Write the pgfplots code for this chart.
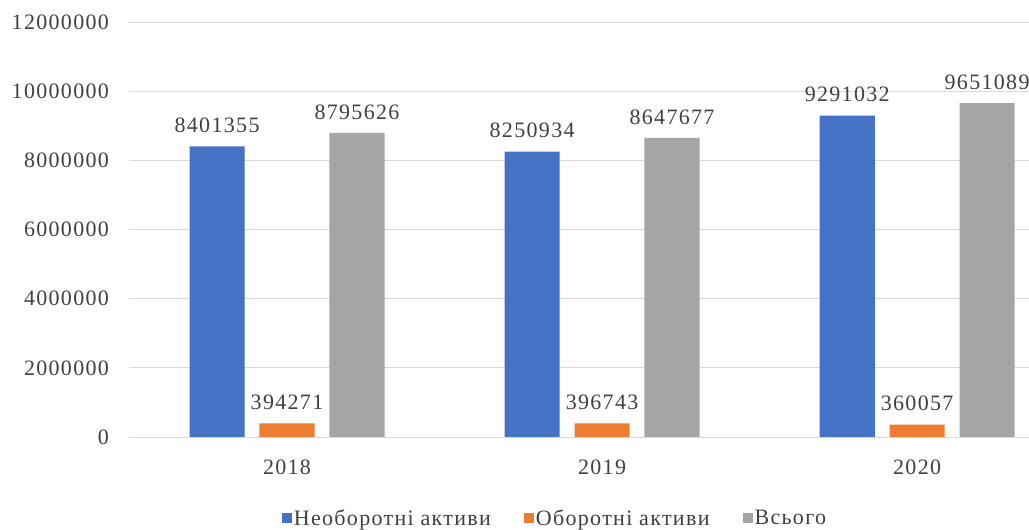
\documentclass[border=0pt]{standalone}
\usepackage{pgfplots}
\pgfplotsset{compat=1.18}
\usepackage{fontspec}
\setmainfont[LetterSpace=6]{Liberation Serif}
\definecolor{cblue}{HTML}{4472C4}
\definecolor{corange}{HTML}{ED7D31}
\definecolor{cgray}{HTML}{A5A5A5}
\definecolor{cgrid}{HTML}{D9D9D9}
\definecolor{ctext}{HTML}{404040}
\newcommand{\lf}{\fontsize{22}{26}\selectfont}
\begin{document}
\begin{tikzpicture}
\useasboundingbox (-129.5pt,-93pt) rectangle (899.5pt,437pt);
\begin{axis}[
  scale only axis, width=899.5pt, height=415pt,
  xmin=-0.5, xmax=2.355, ymin=0, ymax=12000000,
  ybar, bar width=0.175,
  axis line style={draw=none},
  major tick length=0pt,
  scaled y ticks=false,
  ymajorgrids, grid style={cgrid, line width=0.8pt},
  ytick={0,2000000,4000000,6000000,8000000,10000000,12000000},
  yticklabels={0,2000000,4000000,6000000,8000000,10000000,12000000},
  xtick={0,1,2}, xticklabels={2018,2019,2020},
  tick label style={font=\lf, text=ctext},
  yticklabel style={xshift=-17pt},
  xticklabel style={yshift=-19pt},
  point meta=explicit symbolic,
  nodes near coords,
  every node near coord/.append style={font=\lf, text=ctext, yshift=10pt},
  legend columns=3,
  legend style={draw=none, fill=none, font=\lf, text=ctext,
    at={(0.473,-0.195)}, anchor=center,
    /tikz/every even column/.append style={column sep=31pt}},
  legend image code/.code={\fill[#1] (0pt,-5pt) rectangle (10pt,5pt);},
]
\addplot[fill=cblue, draw=none, bar shift=-0.222] coordinates {(0,8401355)[8401355] (1,8250934)[8250934] (2,9291032)[9291032]};
\addlegendentry{Необоротні активи}
\addplot[fill=corange, draw=none, bar shift=0] coordinates {(0,394271)[394271] (1,396743)[396743] (2,360057)[360057]};
\addlegendentry{Оборотні активи}
\addplot[fill=cgray, draw=none, bar shift=0.222] coordinates {(0,8795626)[8795626] (1,8647677)[8647677] (2,9651089)[9651089]};
\addlegendentry{Всього}
\end{axis}
\end{tikzpicture}
\end{document}
